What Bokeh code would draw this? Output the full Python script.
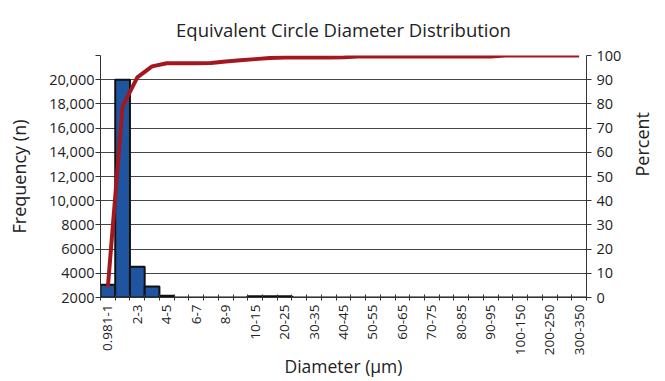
import math
import numpy as np
from bokeh.plotting import figure
from bokeh.models import (Range1d, LinearAxis, FixedTicker, Grid)
from bokeh.embed import file_html
from bokeh.resources import INLINE

# ---- data ----
categories = ["0.981-1", "1-2", "2-3", "3-4", "4-5", "5-6", "6-7", "7-8", "8-9", "9-10",
              "10-15", "15-20", "20-25", "25-30", "30-35", "35-40", "40-45", "45-50",
              "50-55", "55-60", "60-65", "65-70", "70-75", "75-80", "80-85", "85-90",
              "90-95", "95-100", "100-150", "150-200", "200-250", "250-300", "300-350"]
frequency = [3050, 20000, 4550, 2900, 2150, 2000, 2000, 2000, 2000, 2000,
             2100, 2100, 2100, 2000, 2000, 2000, 2000, 2000,
             2000, 2000, 2000, 2000, 2000, 2000, 2000, 2000,
             2000, 2000, 2000, 2000, 2000, 2000, 2000]
percent = [4.3, 79.0, 91.0, 95.5, 96.8, 96.8, 96.8, 96.9, 97.5, 98.0,
           98.5, 99.0, 99.2, 99.2, 99.2, 99.2, 99.3, 99.6,
           99.6, 99.6, 99.6, 99.6, 99.6, 99.6, 99.6, 99.6,
           99.6, 100.0, 100.0, 100.0, 100.0, 100.0, 100.0]
freq_ticks = [2000, 4000, 6000, 8000, 10000, 12000, 14000, 16000, 18000, 20000, 22000]
freq_tick_labels = ["2000", "4000", "6000", "8000", "10,000", "12,000", "14,000",
                    "16,000", "18,000", "20,000", ""]
pct_ticks = [0, 10, 20, 30, 40, 50, 60, 70, 80, 90, 100]
title_text = "Equivalent Circle Diameter Distribution"

FONT = "Open Sans"
n = len(categories)
xc = [i + 0.5 for i in range(n)]

p = figure(frame_width=486, frame_height=242, output_backend="svg", toolbar_location=None,
           x_range=Range1d(0, n), y_range=Range1d(freq_ticks[0], freq_ticks[-1]),
           min_border_left=100, min_border_right=79, min_border_top=55, min_border_bottom=84,
           x_axis_location=None, y_axis_location=None)
p.extra_y_ranges = {"pct": Range1d(0, 100)}
p.outline_line_color = None
p.background_fill_color = "white"
p.border_fill_color = "white"

p.title.text = title_text
p.title.align = "center"
p.title.text_font = FONT
p.title.text_font_size = "18.5px"
p.title.text_font_style = "normal"
p.title.text_color = "#222222"
p.title.standoff = 28

# bottom axis
xaxis = LinearAxis(ticker=FixedTicker(ticks=[xc[i] for i in range(0, n, 2)],
                                      minor_ticks=list(range(n + 1))))
xaxis.major_label_overrides = {xc[i]: categories[i] for i in range(0, n, 2)}
xaxis.major_label_orientation = math.pi / 2
xaxis.major_tick_in = 0
xaxis.major_tick_out = 0
xaxis.minor_tick_in = 3
xaxis.minor_tick_out = 3
xaxis.minor_tick_line_color = "#333333"
xaxis.axis_line_color = "#333333"
xaxis.major_label_text_font = FONT
xaxis.major_label_text_font_size = "13.5px"
xaxis.major_label_text_color = "#222222"
xaxis.major_label_standoff = 4
xaxis.axis_label = "Diameter (µm)"
xaxis.axis_label_text_font = FONT
xaxis.axis_label_text_font_size = "17.5px"
xaxis.axis_label_text_font_style = "normal"
xaxis.axis_label_text_color = "#222222"
xaxis.axis_label_standoff = -4
p.add_layout(xaxis, "below")

# left axis
yaxis = LinearAxis(ticker=FixedTicker(ticks=freq_ticks))
yaxis.major_label_overrides = {t: l for t, l in zip(freq_ticks, freq_tick_labels)}
yaxis.major_tick_in = 0
yaxis.major_tick_out = 5
yaxis.minor_tick_line_color = None
yaxis.axis_line_color = "#333333"
yaxis.major_tick_line_color = "#333333"
yaxis.major_label_text_font = FONT
yaxis.major_label_text_font_size = "14.5px"
yaxis.major_label_text_color = "#222222"
yaxis.major_label_standoff = 1
yaxis.axis_label = "Frequency (n)"
yaxis.axis_label_text_font = FONT
yaxis.axis_label_text_font_size = "18px"
yaxis.axis_label_text_font_style = "normal"
yaxis.axis_label_text_color = "#222222"
yaxis.axis_label_standoff = 15
p.add_layout(yaxis, "left")

# right axis
raxis = LinearAxis(y_range_name="pct", ticker=FixedTicker(ticks=pct_ticks))
raxis.major_tick_in = 0
raxis.major_tick_out = 5
raxis.minor_tick_line_color = None
raxis.axis_line_color = "#333333"
raxis.major_tick_line_color = "#333333"
raxis.major_label_text_font = FONT
raxis.major_label_text_font_size = "14.5px"
raxis.major_label_text_color = "#222222"
raxis.major_label_standoff = 5
raxis.axis_label = "Percent"
raxis.axis_label_orientation = math.pi / 2
raxis.axis_label_text_font = FONT
raxis.axis_label_text_font_size = "18px"
raxis.axis_label_text_font_style = "normal"
raxis.axis_label_text_color = "#222222"
raxis.axis_label_standoff = 18
p.add_layout(raxis, "right")

p.ygrid.visible = False
p.xgrid.visible = False
p.add_layout(Grid(dimension=1, ticker=yaxis.ticker, grid_line_color="#444444",
                  grid_line_width=1))

p.vbar(x=xc, top=frequency, bottom=freq_ticks[0], width=1.0,
       fill_color="#1f55a0", line_color="#111111", line_width=2)
p.line(x=xc, y=percent, y_range_name="pct", line_color="#a3181f", line_width=4,
       line_join="round")

open("out.html", "w").write(file_html(p, INLINE))
